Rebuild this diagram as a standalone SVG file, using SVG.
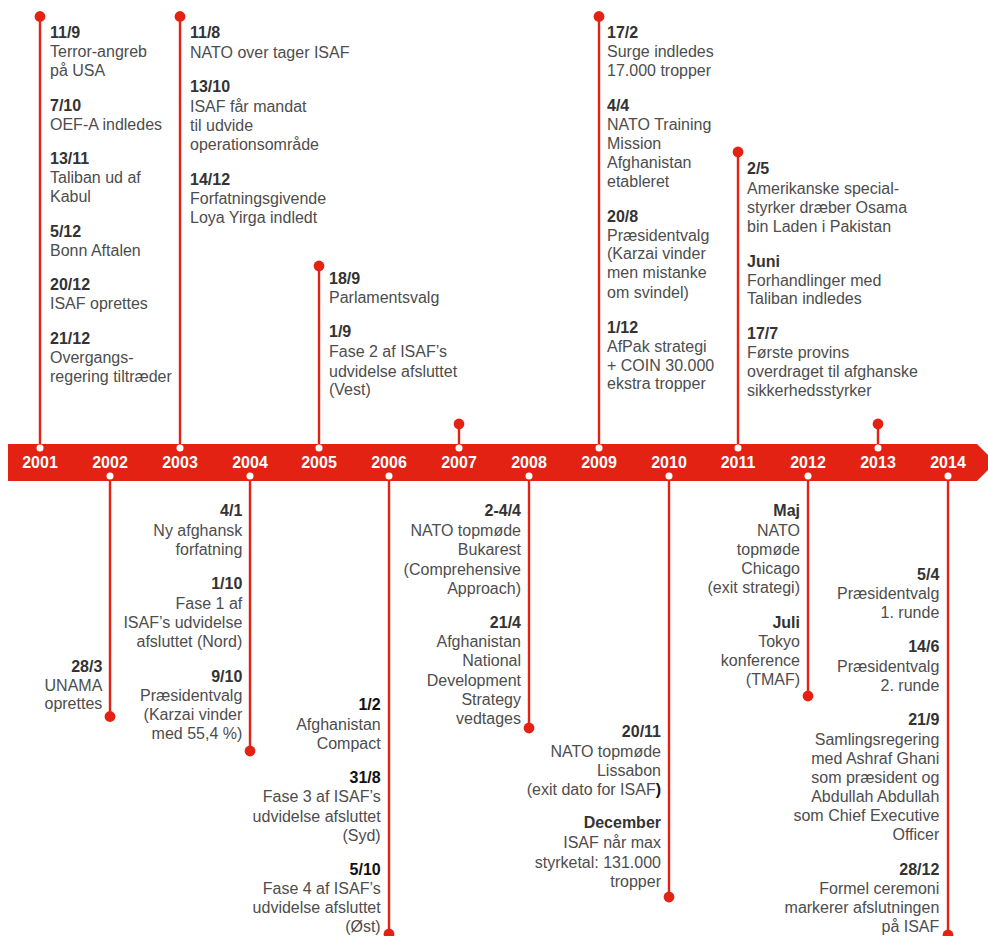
<svg xmlns="http://www.w3.org/2000/svg" width="988" height="936" viewBox="0 0 988 936">
<style>
text{font-family:"Liberation Sans",Arial,Helvetica,sans-serif;font-size:16px;fill:#4d4d4d}
.d{font-weight:bold;fill:#333}
.k{font-weight:bold;fill:#111}
.r{text-anchor:end}
.y{font-weight:bold;fill:#fff;text-anchor:middle}
.stem{stroke:#e32213;stroke-width:2.4;fill:none}
.dot{fill:#e32213}
.wd{fill:#fff}
</style>
<rect width="988" height="936" fill="#fff"/>
<g id="bar">
<polygon points="8,444 977,444 995.5,462.5 977,481 8,481" fill="#e32213"/>
<text class="y" x="40" y="468">2001</text>
<text class="y" x="110" y="468">2002</text>
<text class="y" x="180" y="468">2003</text>
<text class="y" x="250" y="468">2004</text>
<text class="y" x="319" y="468">2005</text>
<text class="y" x="389" y="468">2006</text>
<text class="y" x="459" y="468">2007</text>
<text class="y" x="529" y="468">2008</text>
<text class="y" x="599" y="468">2009</text>
<text class="y" x="669" y="468">2010</text>
<text class="y" x="738" y="468">2011</text>
<text class="y" x="808" y="468">2012</text>
<text class="y" x="878" y="468">2013</text>
<text class="y" x="948" y="468">2014</text>
</g>
<g id="connectors">
<line class="stem" x1="40" y1="448" x2="40" y2="16.5"/>
<line class="stem" x1="180" y1="448" x2="180" y2="16.5"/>
<line class="stem" x1="319" y1="448" x2="319" y2="266"/>
<line class="stem" x1="459" y1="448" x2="459" y2="424"/>
<line class="stem" x1="599" y1="448" x2="599" y2="16.5"/>
<line class="stem" x1="738" y1="448" x2="738" y2="152"/>
<line class="stem" x1="878" y1="448" x2="878" y2="424"/>
<line class="stem" x1="110" y1="476" x2="110" y2="716.5"/>
<line class="stem" x1="250" y1="476" x2="250" y2="751"/>
<line class="stem" x1="389" y1="476" x2="389" y2="934"/>
<line class="stem" x1="529" y1="476" x2="529" y2="728"/>
<line class="stem" x1="669" y1="476" x2="669" y2="897"/>
<line class="stem" x1="808" y1="476" x2="808" y2="696"/>
<line class="stem" x1="948" y1="476" x2="948" y2="935"/>
<circle class="dot" cx="40" cy="16.5" r="5.4"/>
<circle class="dot" cx="180" cy="16.5" r="5.4"/>
<circle class="dot" cx="319" cy="266" r="5.4"/>
<circle class="dot" cx="459" cy="424" r="5.4"/>
<circle class="dot" cx="599" cy="16.5" r="5.4"/>
<circle class="dot" cx="738" cy="152" r="5.4"/>
<circle class="dot" cx="878" cy="424" r="5.4"/>
<circle class="dot" cx="110" cy="716.5" r="5.4"/>
<circle class="dot" cx="250" cy="751" r="5.4"/>
<circle class="dot" cx="389" cy="934" r="5.4"/>
<circle class="dot" cx="529" cy="728" r="5.4"/>
<circle class="dot" cx="669" cy="897" r="5.4"/>
<circle class="dot" cx="808" cy="696" r="5.4"/>
<circle class="dot" cx="948" cy="935" r="5.4"/>
<circle class="wd" cx="40" cy="448" r="3.5"/>
<circle class="wd" cx="180" cy="448" r="3.5"/>
<circle class="wd" cx="319" cy="448" r="3.5"/>
<circle class="wd" cx="459" cy="448" r="3.5"/>
<circle class="wd" cx="599" cy="448" r="3.5"/>
<circle class="wd" cx="738" cy="448" r="3.5"/>
<circle class="wd" cx="878" cy="448" r="3.5"/>
<circle class="wd" cx="110" cy="476" r="3.5"/>
<circle class="wd" cx="250" cy="476" r="3.5"/>
<circle class="wd" cx="389" cy="476" r="3.5"/>
<circle class="wd" cx="529" cy="476" r="3.5"/>
<circle class="wd" cx="669" cy="476" r="3.5"/>
<circle class="wd" cx="808" cy="476" r="3.5"/>
<circle class="wd" cx="948" cy="476" r="3.5"/>
</g>
<g id="e2001">
<text class="d" x="50" y="37.7">11/9</text>
<text x="50" y="57.3">Terror-angreb</text>
<text x="50" y="76">på USA</text>
<text class="d" x="50" y="110.7">7/10</text>
<text x="50" y="130">OEF-A indledes</text>
<text class="d" x="50" y="164">13/11</text>
<text x="50" y="183.3">Taliban ud af</text>
<text x="50" y="202">Kabul</text>
<text class="d" x="50" y="236.7">5/12</text>
<text x="50" y="256">Bonn Aftalen</text>
<text class="d" x="50" y="290">20/12</text>
<text x="50" y="309.3">ISAF oprettes</text>
<text class="d" x="50" y="344">21/12</text>
<text x="50" y="362.7">Overgangs-</text>
<text x="50" y="381.7">regering tiltræder</text>
</g>
<g id="e2003">
<text class="d" x="190" y="37.7">11/8</text>
<text x="190" y="57.7">NATO over tager ISAF</text>
<text class="d" x="190" y="92.3">13/10</text>
<text x="190" y="111.7">ISAF får mandat</text>
<text x="190" y="130.7">til udvide</text>
<text x="190" y="149.7">operationsområde</text>
<text class="d" x="190" y="185">14/12</text>
<text x="190" y="204">Forfatningsgivende</text>
<text x="190" y="222.7">Loya Yirga indledt</text>
</g>
<g id="e2005">
<text class="d" x="329" y="284">18/9</text>
<text x="329" y="303.3">Parlamentsvalg</text>
<text class="d" x="329" y="337.3">1/9</text>
<text x="329" y="357.3">Fase 2 af ISAF’s</text>
<text x="329" y="376.7">udvidelse afsluttet</text>
<text x="329" y="395">(Vest)</text>
</g>
<g id="e2009">
<text class="d" x="607" y="37.7">17/2</text>
<text x="607" y="57.3">Surge indledes</text>
<text x="607" y="76">17.000 tropper</text>
<text class="d" x="607" y="110.7">4/4</text>
<text x="607" y="130">NATO Training</text>
<text x="607" y="149">Mission</text>
<text x="607" y="167.7">Afghanistan</text>
<text x="607" y="186.7">etableret</text>
<text class="d" x="607" y="221.7">20/8</text>
<text x="607" y="240.7">Præsidentvalg</text>
<text x="607" y="259.3">(Karzai vinder</text>
<text x="607" y="278.3">men mistanke</text>
<text x="607" y="297.7">om svindel)</text>
<text class="d" x="607" y="332.7">1/12</text>
<text x="607" y="351.7">AfPak strategi</text>
<text x="607" y="370.7">+ COIN 30.000</text>
<text x="607" y="389.3">ekstra tropper</text>
</g>
<g id="e2011">
<text class="d" x="747" y="174.3">2/5</text>
<text x="747" y="194">Amerikanske special-</text>
<text x="747" y="212.7">styrker dræber Osama</text>
<text x="747" y="232.3">bin Laden i Pakistan</text>
<text class="d" x="747" y="266.7">Juni</text>
<text x="747" y="285.7">Forhandlinger med</text>
<text x="747" y="304.3">Taliban indledes</text>
<text class="d" x="747" y="339">17/7</text>
<text x="747" y="358.3">Første provins</text>
<text x="747" y="376.7">overdraget til afghanske</text>
<text x="747" y="396">sikkerhedsstyrker</text>
</g>
<g id="e2002">
<text class="d r" x="102.3" y="671.7">28/3</text>
<text class="r" x="102.3" y="690.7">UNAMA</text>
<text class="r" x="102.3" y="709.3">oprettes</text>
</g>
<g id="e2004">
<text class="d r" x="242.3" y="516">4/1</text>
<text class="r" x="242.3" y="536">Ny afghansk</text>
<text class="r" x="242.3" y="555">forfatning</text>
<text class="d r" x="242.3" y="589.3">1/10</text>
<text class="r" x="242.3" y="609.3">Fase 1 af</text>
<text class="r" x="242.3" y="627.7">ISAF’s udvidelse</text>
<text class="r" x="242.3" y="646.7">afsluttet (Nord)</text>
<text class="d r" x="242.3" y="681.7">9/10</text>
<text class="r" x="242.3" y="701">Præsidentvalg</text>
<text class="r" x="242.3" y="720">(Karzai vinder</text>
<text class="r" x="242.3" y="739">med 55,4 %)</text>
</g>
<g id="e2006">
<text class="k r" x="380.7" y="710">1/2</text>
<text class="r" x="380.7" y="730">Afghanistan</text>
<text class="r" x="380.7" y="748.7">Compact</text>
<text class="k r" x="380.7" y="782.7">31/8</text>
<text class="r" x="380.7" y="801.7">Fase 3 af ISAF’s</text>
<text class="r" x="380.7" y="821.7">udvidelse afsluttet</text>
<text class="r" x="380.7" y="840.7">(Syd)</text>
<text class="k r" x="380.7" y="875">5/10</text>
<text class="r" x="380.7" y="894">Fase 4 af ISAF’s</text>
<text class="r" x="380.7" y="912.7">udvidelse afsluttet</text>
<text class="r" x="380.7" y="931.7">(Øst)</text>
</g>
<g id="e2008">
<text class="d r" x="521" y="516">2-4/4</text>
<text class="r" x="521" y="536">NATO topmøde</text>
<text class="r" x="521" y="555">Bukarest</text>
<text class="r" x="521" y="575">(Comprehensive</text>
<text class="r" x="521" y="594">Approach)</text>
<text class="d r" x="521" y="627.7">21/4</text>
<text class="r" x="521" y="646.7">Afghanistan</text>
<text class="r" x="521" y="666">National</text>
<text class="r" x="521" y="685.7">Development</text>
<text class="r" x="521" y="705">Strategy</text>
<text class="r" x="521" y="724">vedtages</text>
</g>
<g id="e2010">
<text class="d r" x="661" y="736.7">20/11</text>
<text class="r" x="661" y="756.7">NATO topmøde</text>
<text class="r" x="661" y="775.7">Lissabon</text>
<text class="r" x="661" y="795">(exit dato for ISAF<tspan class="k">)</tspan></text>
<text class="d r" x="661" y="828.3">December</text>
<text class="r" x="661" y="848.3">ISAF når max</text>
<text class="r" x="661" y="867.7">styrketal: 131.000</text>
<text class="r" x="661" y="886.7">tropper</text>
</g>
<g id="e2012">
<text class="d r" x="800" y="516">Maj</text>
<text class="r" x="800" y="536">NATO</text>
<text class="r" x="800" y="555">topmøde</text>
<text class="r" x="800" y="574.3">Chicago</text>
<text class="r" x="800" y="593.3">(exit strategi)</text>
<text class="d r" x="800" y="627.7">Juli</text>
<text class="r" x="800" y="646.7">Tokyo</text>
<text class="r" x="800" y="665.7">konference</text>
<text class="r" x="800" y="685">(TMAF)</text>
</g>
<g id="e2014">
<text class="d r" x="939.3" y="580">5/4</text>
<text class="r" x="939.3" y="599">Præsidentvalg</text>
<text class="r" x="939.3" y="617.7">1. runde</text>
<text class="d r" x="939.3" y="652.3">14/6</text>
<text class="r" x="939.3" y="671.7">Præsidentvalg</text>
<text class="r" x="939.3" y="690.7">2. runde</text>
<text class="d r" x="939.3" y="725">21/9</text>
<text class="r" x="939.3" y="745">Samlingsregering</text>
<text class="r" x="939.3" y="764">med Ashraf Ghani</text>
<text class="r" x="939.3" y="783.3">som præsident og</text>
<text class="r" x="939.3" y="801.7">Abdullah Abdullah</text>
<text class="r" x="939.3" y="821">som Chief Executive</text>
<text class="r" x="939.3" y="840">Officer</text>
<text class="d r" x="939.3" y="875">28/12</text>
<text class="r" x="939.3" y="894">Formel ceremoni</text>
<text class="r" x="939.3" y="912.7">markerer afslutningen</text>
<text class="r" x="939.3" y="931.7">på ISAF</text>
</g>
</svg>
